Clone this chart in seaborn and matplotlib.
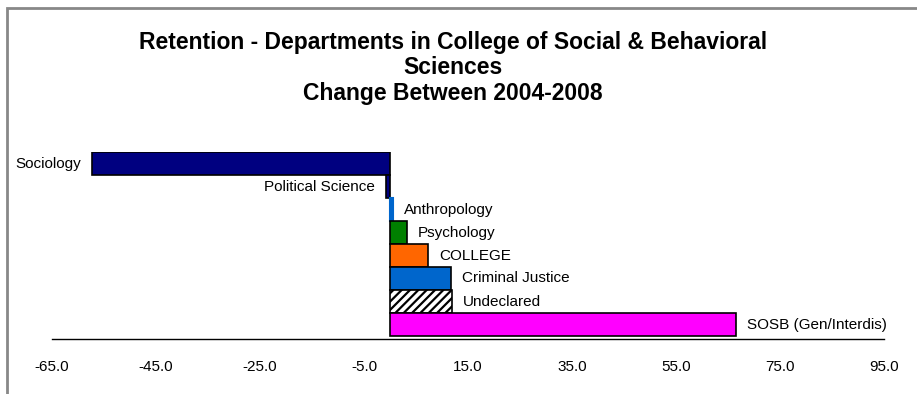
import matplotlib
matplotlib.use("Agg")
import matplotlib.pyplot as plt
from matplotlib.patches import Rectangle
import seaborn as sns

# retention change per department, 2004-2008
departments = ['Sociology', 'Political Science', 'Anthropology', 'Psychology',
               'COLLEGE', 'Criminal Justice', 'Undeclared', 'SOSB (Gen/Interdis)']
change = [-57.3, -0.7, 0.5, 3.2, 7.3, 11.8, 11.9, 66.6]
bar_colors = ['#000080', '#000080', '#0066CC', '#008000',
              '#FF6600', '#0066CC', '#FFFFFF', '#FF00FF']
xticks = [-65, -45, -25, -5, 15, 35, 55, 75, 95]

sns.set_style("white")
plt.rcParams['font.family'] = ['Liberation Sans', 'DejaVu Sans']
plt.rcParams['text.color'] = 'black'
plt.rcParams['xtick.color'] = 'black'
plt.rcParams['hatch.linewidth'] = 1.6

fig = plt.figure(figsize=(9.17, 3.94), dpi=100)
ax = fig.add_axes([52/917, 55/394, (884-52)/917, (339-152)/394])

sns.barplot(x=change, y=departments, hue=departments, palette=bar_colors,
            orient='h', width=1.0, saturation=1, edgecolor='black', linewidth=1.2,
            legend=False, dodge=False, ax=ax)

# hatch the undeclared bar, keep the thin anthropology sliver blue
for patch, name, col in zip(ax.patches, departments, bar_colors):
    if name == 'Undeclared':
        patch.set_hatch('////')
    if name == 'Anthropology':
        patch.set_edgecolor(col)
        patch.set_linewidth(1.5)

# category labels beside the bar ends
for i, (name, val) in enumerate(zip(departments, change)):
    if val < 0:
        ax.annotate(name, (val, i), xytext=(-8, 0), textcoords='offset points',
                    ha='right', va='center', fontsize=11, color='black')
    else:
        ax.annotate(name, (val, i), xytext=(8, 0), textcoords='offset points',
                    ha='left', va='center', fontsize=11, color='black')

ax.set_xlim(-65, 95)
ax.set_ylim(7.5 + 3/23, -0.5)
ax.set_xticks(xticks)
ax.set_xticklabels([f'{t:.1f}' for t in xticks], fontsize=11)
ax.set_yticks([])
ax.set_ylabel('')
ax.tick_params(axis='x', direction='out', length=4, color='#808080', pad=11)
for side in ['top', 'right', 'left']:
    ax.spines[side].set_visible(False)
ax.spines['bottom'].set_color('black')
ax.spines['bottom'].set_linewidth(1.0)

fig.text(453/917, 1 - 68/394,
         'Retention - Departments in College of Social & Behavioral\nSciences\nChange Between 2004-2008',
         ha='center', va='center', fontsize=16.5, fontweight='bold',
         linespacing=1.12, color='black')

# chart frame (grey border at top and left)
fig.add_artist(Rectangle((7/917, -0.1), 1.2, 1 - 8/394 + 0.1,
                         transform=fig.transFigure, fill=False,
                         edgecolor='#888888', linewidth=2))

plt.savefig("out.png", dpi=100)
